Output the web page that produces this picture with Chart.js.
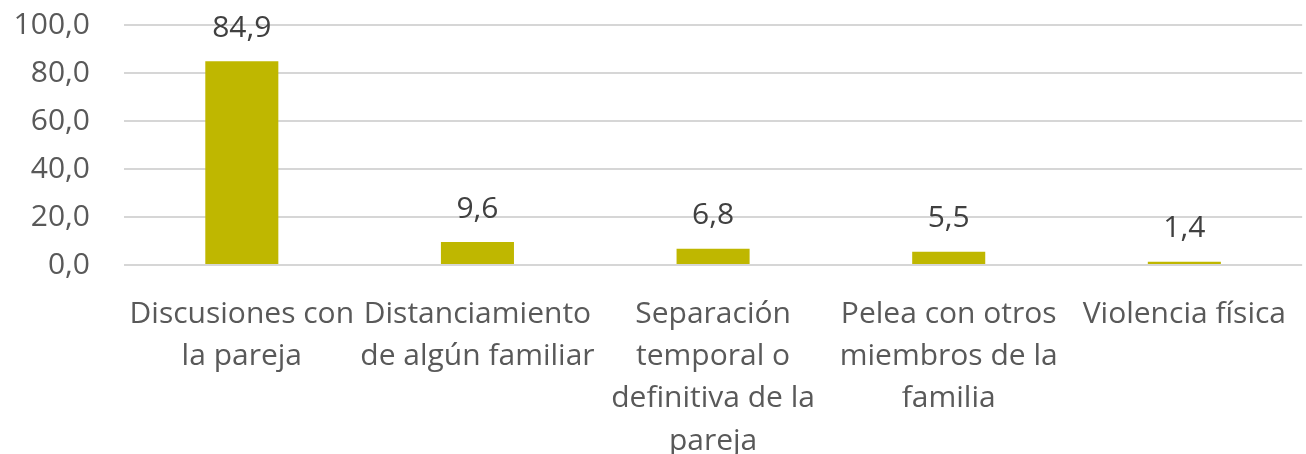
<!DOCTYPE html>
<html>
<head>
<meta charset="utf-8">
<script src="https://cdn.jsdelivr.net/npm/chart.js@4/dist/chart.umd.min.js"></script>
<style>
    body { margin: 0; background: #fff; }
    #wrap { width: 1306px; height: 454px; }
</style>
</head>
<body>
<div id="wrap"><canvas id="grafico"></canvas></div>
<script>
const categorias = [
    ["Discusiones con", "la pareja"],
    ["Distanciamiento", "de algún familiar"],
    ["Separación", "temporal o", "definitiva de la", "pareja"],
    ["Pelea con otros", "miembros de la", "familia"],
    ["Violencia física"]
];
const valores = [84.9, 9.6, 6.8, 5.5, 1.4];
const ticksY = [0, 20, 40, 60, 80, 100];

const fuente = "'Open Sans', sans-serif";
const coma = (v) => v.toFixed(1).replace(".", ",");

// etiquetas de valor encima de cada barra
const etiquetas = {
    id: "etiquetas",
    afterDatasetsDraw(chart) {
        const ctx = chart.ctx;
        const meta = chart.getDatasetMeta(0);
        ctx.save();
        ctx.font = `30px ${fuente}`;
        ctx.fillStyle = "#404040";
        ctx.textAlign = "center";
        ctx.textBaseline = "middle";
        meta.data.forEach((bar, i) => {
            ctx.fillText(coma(valores[i]), bar.x, bar.y - 33);
        });
        ctx.restore();
    }
};

new Chart(document.getElementById("grafico"), {
    type: "bar",
    data: {
        labels: categorias,
        datasets: [{
            data: valores,
            backgroundColor: "#BFB700",
            borderWidth: 0,
            categoryPercentage: 1,
            barPercentage: 0.31
        }]
    },
    options: {
        responsive: true,
        maintainAspectRatio: false,
        animation: false,
        layout: { padding: 0 },
        plugins: { legend: { display: false }, tooltip: { enabled: false } },
        scales: {
            y: {
                min: 0,
                max: 100,
                afterBuildTicks: (scale) => { scale.ticks = ticksY.map((v) => ({ value: v })); },
                afterFit: (scale) => {
                    scale.width = 124;
                    scale.paddingTop = 25;
                    scale.paddingBottom = 0;
                },
                border: { display: false },
                grid: { color: "#D6D6D6", lineWidth: 2, drawTicks: false },
                ticks: {
                    padding: 34,
                    color: "#595959",
                    font: { family: fuente, size: 30 },
                    callback: (v) => coma(v)
                }
            },
            x: {
                afterFit: (scale) => { scale.height = 189; },
                border: { display: false },
                grid: { display: false },
                ticks: {
                    maxRotation: 0,
                    autoSkip: false,
                    padding: 20,
                    color: "#595959",
                    font: { family: fuente, size: 30, lineHeight: 1.41 }
                }
            }
        }
    },
    plugins: [etiquetas]
});
</script>
</body>
</html>
